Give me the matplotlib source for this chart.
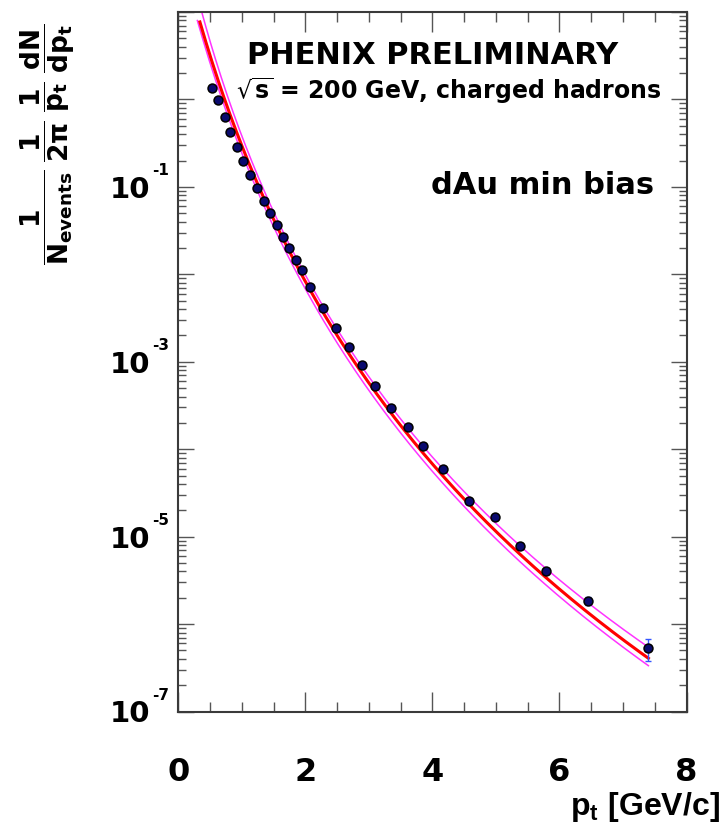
import numpy as np
import matplotlib
matplotlib.use("Agg")
import matplotlib.pyplot as plt
from matplotlib import font_manager, transforms
from matplotlib.ticker import LogLocator, MultipleLocator, NullFormatter

# Charged hadron spectrum, d+Au minimum bias, sqrt(s_NN) = 200 GeV
pt = [0.53, 0.63, 0.73, 0.82, 0.92, 1.02, 1.13, 1.24, 1.35, 1.45, 1.55,
      1.65, 1.75, 1.85, 1.95, 2.08, 2.28, 2.48, 2.68, 2.89, 3.10, 3.35,
      3.61, 3.85, 4.17, 4.57, 4.99, 5.38, 5.79, 6.45, 7.40]
yield_dau = [1.34, 0.98, 0.633, 0.426, 0.287, 0.197, 0.136, 0.0960, 0.0682,
             0.0497, 0.0366, 0.0264, 0.0200, 0.0146, 0.0112, 7.20e-3,
             4.14e-3, 2.45e-3, 1.47e-3, 9.1e-4, 5.31e-4, 2.98e-4, 1.81e-4,
             1.09e-4, 5.97e-5, 2.57e-5, 1.66e-5, 7.8e-6, 4.07e-6, 1.85e-6,
             5.28e-7]
rel_err = [0.03, 0.03, 0.03, 0.03, 0.03, 0.03, 0.03, 0.03, 0.03, 0.03, 0.03,
           0.03, 0.03, 0.03, 0.03, 0.03, 0.03, 0.03, 0.03, 0.04, 0.04, 0.04,
           0.05, 0.05, 0.05, 0.06, 0.06, 0.07, 0.08, 0.10, 0.28]

# Power-law reference curve A * (1 + pt/p0)^-n and its band
ref_central = (67.5, 1.50, 10.63)
ref_upper = (128.0, 1.28, 10.07)
ref_lower = (55.5, 1.50, 10.63)
central_range = (0.34, 7.40)
upper_range = (0.22, 7.40)
lower_range = (0.30, 7.40)

xticks = [0, 2, 4, 6, 8]
ylabel_decades = [-1, -3, -5, -7]

W, H = 722, 835
fig = plt.figure(figsize=(W / 100, H / 100), dpi=100)
fig.patch.set_facecolor("white")


def fx(x):
    return x / W


def fy(y):
    return 1 - y / H


ax = fig.add_axes([fx(178.3), fy(711.5), fx(686.5) - fx(178.3),
                   fy(12.0) - fy(711.5)])
ax.set_yscale("log")
ax.set_xlim(0, 8)
ax.set_ylim(1e-7, 10)


def hagedorn(p, params):
    a, p0, n = params
    return a * (1 + p / p0) ** (-n)


for rng, params in ((upper_range, ref_upper), (lower_range, ref_lower)):
    p = np.linspace(*rng, 300)
    ax.plot(p, hagedorn(p, params), color="#ff33ff", lw=1.1, zorder=2)
p = np.linspace(*central_range, 300)
ax.plot(p, hagedorn(p, ref_central), color="#ff0000", lw=2.2, zorder=3)

yv = np.array(yield_dau)
ax.errorbar(pt, yv, yerr=yv * np.array(rel_err), fmt="none", ecolor="#3355ff",
            elinewidth=1.0, capsize=2.2, capthick=1.0, zorder=4)
ax.plot(pt, yv, "o", ms=6.4, mfc="#0a0a6e", mec="black", mew=1.1, zorder=5)

# axes frame and ticks
for s in ax.spines.values():
    s.set_linewidth(1.5)
    s.set_color("#3a3a3a")
ax.xaxis.set_major_locator(MultipleLocator(2))
ax.xaxis.set_minor_locator(MultipleLocator(0.5))
ax.yaxis.set_major_locator(LogLocator(base=10, numticks=20))
ax.yaxis.set_minor_locator(LogLocator(base=10, subs=np.arange(2, 10), numticks=20))
ax.yaxis.set_major_formatter(NullFormatter())
ax.yaxis.set_minor_formatter(NullFormatter())
ax.tick_params(which="both", direction="in", top=True, right=True, color="#555555")
ax.tick_params(axis="x", which="major", length=14.4, width=1.0, pad=33)
ax.tick_params(axis="x", which="minor", length=7.2, width=1.0)
ax.tick_params(axis="y", which="major", length=11.5, width=1.0)
ax.tick_params(axis="y", which="minor", length=5.8, width=1.0)
ax.set_xticks(xticks, labels=[str(v) for v in xticks], fontsize=23,
              fontweight="bold", family="DejaVu Sans")

# decade labels 10^n
base_tr = ax.get_yaxis_transform()
for e in ylabel_decades:
    t_main = transforms.offset_copy(base_tr, fig=fig, x=-28, y=-11, units="dots")
    ax.text(0, 10.0 ** e, "10", transform=t_main, ha="right", va="baseline",
            fontsize=21, fontweight="bold", family="DejaVu Sans")
    t_sup = transforms.offset_copy(base_tr, fig=fig, x=-26.5, y=12, units="dots")
    ax.text(0, 10.0 ** e, f"-{abs(e)}", transform=t_sup, ha="left", va="baseline",
            fontsize=11, fontweight="bold", family="DejaVu Sans")

# axis titles
narrow = "Liberation Sans Narrow"
names = {f.name for f in font_manager.fontManager.ttflist}
if narrow not in names:
    narrow = "Liberation Sans"
plt.rcParams["mathtext.fontset"] = "custom"
plt.rcParams["mathtext.rm"] = f"{narrow}:bold"
plt.rcParams["mathtext.it"] = f"{narrow}:bold"
plt.rcParams["mathtext.bf"] = f"{narrow}:bold"

fig.text(fx(720), fy(815), r"$\mathrm{p_{t}\ [GeV/c]}$", ha="right", va="baseline",
         fontsize=23)

ylab = (r"$\mathbf{\dfrac{1}{N_{events}}\;\dfrac{1}{2\pi}\;"
        r"\dfrac{1}{p_{t}}\;\dfrac{dN}{dp_{t}}}$")
fig.text(fx(48), fy(144), ylab, rotation=90, ha="center", va="center",
         fontsize=19, math_fontfamily="dejavusans")

# annotations
fig.text(fx(432.5), fy(64), "PHENIX PRELIMINARY", ha="center", va="baseline",
         fontsize=22, fontweight="bold", family="DejaVu Sans")
fig.text(fx(662), fy(99), r"$\mathbf{\sqrt{s}}$ = 200 GeV, charged hadrons",
         ha="right", va="baseline", fontsize=17, fontweight="bold",
         family="DejaVu Sans", math_fontfamily="dejavusans")
fig.text(fx(654), fy(194), "dAu min bias", ha="right", va="baseline",
         fontsize=22, fontweight="bold", family="DejaVu Sans")

fig.savefig("out.png", dpi=100)
